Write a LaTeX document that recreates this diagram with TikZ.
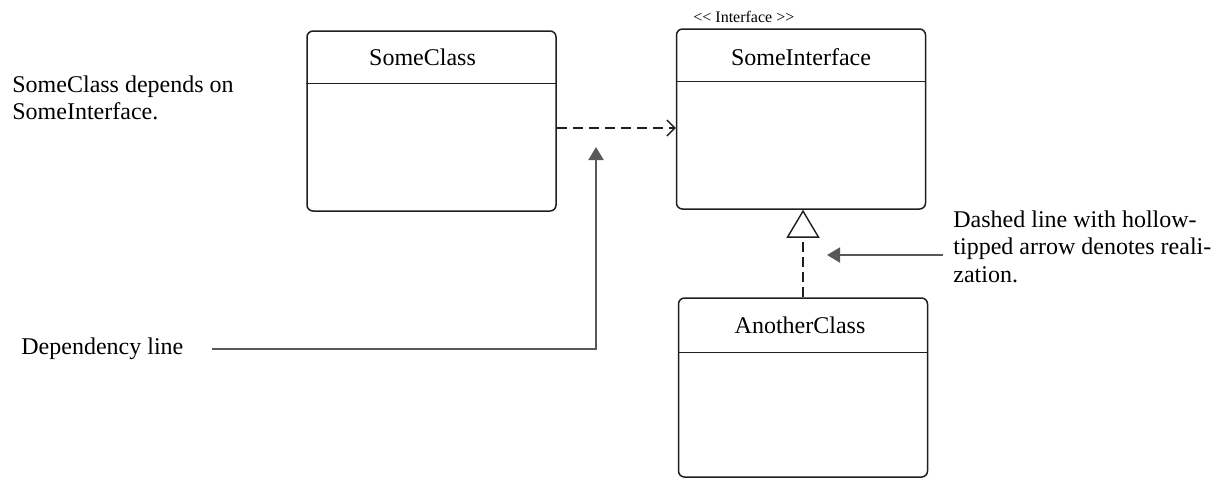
\documentclass[tikz,border=0pt]{standalone}
\usepackage{fontspec}
\setmainfont{Liberation Serif}
\usetikzlibrary{arrows.meta,positioning,calc}
\definecolor{flecha}{RGB}{88,88,88}
\definecolor{borde}{RGB}{30,30,30}

\begin{document}
\begin{tikzpicture}[x=0.5pt, y=-0.5pt,
    clase/.style={draw=borde, line width=0.75pt, rounded corners=3pt, minimum width=124.5pt, minimum height=90pt, inner sep=0pt},
    titulo/.style={font=\fontsize{12}{14}\selectfont, inner sep=0pt},
    nota/.style={font=\fontsize{12}{13.75}\selectfont, align=left, inner sep=0pt},
    depende/.style={draw=borde, line width=0.7pt, dash pattern=on 5pt off 3pt, -{Straight Barb[length=4pt,width=8pt]}},
    realiza/.style={draw=borde, line width=0.7pt, dash pattern=on 5pt off 2.5pt, -{Triangle[open,length=14pt,width=16.5pt]}},
    senal/.style={flecha, line width=1pt, -{Triangle[length=6.5pt,width=7.5pt]}}]
    \useasboundingbox (0,0) rectangle (1218,479);

    % Clases
    \node[clase] (someclass) at (431.5,121) {};
    \node[clase] (someiface) at (801,119) {};
    \node[clase, minimum height=89.5pt] (another) at (803,387.5) {};

    % Cabeceras
    \draw[borde, line width=0.75pt] ([yshift=-26.5pt]someclass.north west) -- ([yshift=-26.5pt]someclass.north east);
    \draw[borde, line width=0.75pt] ([yshift=-26.5pt]someiface.north west) -- ([yshift=-26.5pt]someiface.north east);
    \draw[borde, line width=0.75pt] ([yshift=-27.5pt]another.north west) -- ([yshift=-27.5pt]another.north east);
    \node[titulo] (someclasstit) at ([xshift=-4.5pt, yshift=-13.5pt]someclass.north) {SomeClass};
    \node[titulo] (someifacetit) at ([yshift=-14.5pt]someiface.north) {SomeInterface};
    \node[titulo] (anothertit) at ([xshift=-1.5pt, yshift=-14pt]another.north) {AnotherClass};
    \node[font=\fontsize{8}{9}\selectfont, anchor=base west, inner sep=0pt] (estereo) at (693,22) {<\kern0pt< Interface >\kern0pt>};

    % Relaciones
    \draw[depende] (someclass.east) ++(0,7) coordinate (d1) -- (d1 -| someiface.west);
    \draw[realiza] (another.north) -- (another.north |- someiface.south);

    % Notas
    \node[nota, anchor=west] (nota1) at (12,98) {SomeClass depends on\\SomeInterface.};
    \node[nota, anchor=west] (deplabel) at (21,349) {Dependency line};
    \node[nota, anchor=north west] (realnote) at (953,210) {Dashed line with hollow-\\tipped arrow denotes reali-\\zation.};

    % Flechas de nota
    \coordinate (deptip) at (596,147);
    \coordinate (realtip) at (827,255);
    \draw[senal] ([xshift=14pt]deplabel.east) -| (deptip);
    \draw[senal] ($(realnote.west |- realtip)+(-10,0)$) -- (realtip);
\end{tikzpicture}
\end{document}
